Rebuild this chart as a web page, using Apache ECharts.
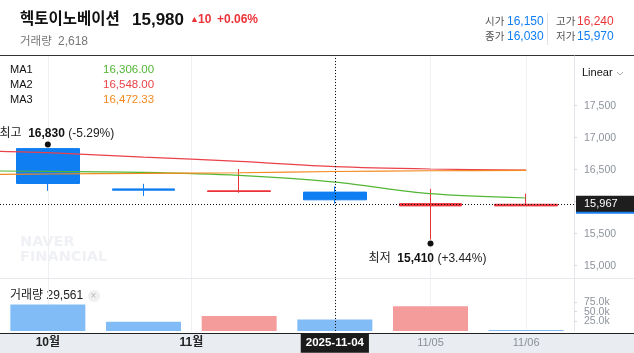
<!DOCTYPE html>
<html>
<head>
<meta charset="utf-8">
<script src="https://cdn.jsdelivr.net/npm/echarts@6/dist/echarts.min.js"></script>
<style>
  html, body { margin: 0; padding: 0; background: #fff; }
  #chart { width: 634px; height: 353px; }
</style>
</head>
<body>
<div id="chart"></div>
<script>
  // 일봉 6개 (10/30 ~ 11/06), x 좌표는 인덱스
  const dates   = ['2025-10-30', '2025-10-31', '2025-11-03', '2025-11-04', '2025-11-05', '2025-11-06'];
  const opens   = [16830, 16200, 16160, 16150, 15935, 15935];
  const closes  = [16285, 16180, 16170, 16030, 15970, 15960];
  const lows    = [16170, 16090, 16140, 15970, 15410, 15935];
  const highs   = [16830, 16280, 16510, 16240, 16200, 16125];
  const volumes = [69000, 24000, 39000, 29561, 64000, 2618];

  // 이동평균선 (첫 점은 차트 왼쪽 끝)
  const maX = [-0.5, 0, 1, 2, 3, 4, 5];
  const ma1 = [16480, 16473, 16458, 16411, 16306, 16125, 16058];
  const ma2 = [16786, 16766, 16698, 16630, 16548, 16511, 16495];
  const ma3 = [16427, 16433, 16442, 16453, 16472.33, 16484, 16489];

  // 축 눈금
  const xLabelPos = [0, 1.5, 3, 4, 5];
  const xLabels = ['10월', '11월', '2025-11-04', '11/05', '11/06'];
  const priceTicks = [15000, 15500, 16000, 16500, 17000, 17500];
  const volTicks = [25000, 50000, 75000];

  // 크로스헤어 / 헤더
  const crossIdx = 3;
  const crossPrice = 15967;
  const refPrice = 15940;
  const stockName = '헥토이노베이션';
  const lastPrice = 15980;
  const change = 10;
  const changePct = 0.06;
  const todayVolume = 2618;

  const FONT = '"Liberation Sans", "Noto Sans CJK KR", sans-serif';
  const UP = '#ec3338', DOWN = '#0f7ef2';
  const fmt = v => v.toLocaleString('en-US');
  const fmt2 = v => v.toLocaleString('en-US', {minimumFractionDigits: 2, maximumFractionDigits: 2});

  const chart = echarts.init(document.getElementById('chart'));

  const candleData = dates.map((d, i) => [i, opens[i], closes[i], lows[i], highs[i]]);
  const volData = volumes.map((v, i) => ({
    value: [i, v],
    itemStyle: {color: i > 0 && v > volumes[i - 1] ? '#f49c9c' : '#82bcf7'}
  }));
  const maIdx = maX.indexOf(crossIdx);

  const hiIdx = highs.indexOf(Math.max(...highs));
  const loIdx = lows.indexOf(Math.min(...lows));
  const pct = v => {
    const p = (refPrice / v - 1) * 100;
    return (p > 0 ? '+' : '') + p.toFixed(2) + '%';
  };
  const markRich = {
    t: {fontSize: 12, color: '#222', fontFamily: FONT},
    b: {fontSize: 12, color: '#111', fontWeight: 'bold', fontFamily: FONT}
  };

  function txt(x, y, text, size, color, weight, family) {
    return {
      type: 'text', x: x, y: y, silent: true,
      style: {
        text: text, fill: color, fontSize: size, fontWeight: weight || 'normal',
        fontFamily: family || FONT, verticalAlign: 'middle'
      }
    };
  }

  const maNames = ['MA1', 'MA2', 'MA3'];
  const maColors = ['#52b735', '#ea4249', '#f3891f'];
  const maSets = [ma1, ma2, ma3];

  const graphic = [
    {type: 'rect', z: -10, silent: true, shape: {x: 0, y: 333, width: 634, height: 20}, style: {fill: '#e9ecf0'}},
    {type: 'line', silent: true, shape: {x1: 0, y1: 333.5, x2: 634, y2: 333.5}, style: {stroke: '#222', lineWidth: 1}},
    {type: 'line', silent: true, shape: {x1: 0, y1: 55.5, x2: 634, y2: 55.5}, style: {stroke: '#333', lineWidth: 1}},
    {type: 'line', silent: true, shape: {x1: 0, y1: 278.5, x2: 634, y2: 278.5}, style: {stroke: '#e6e8eb', lineWidth: 1}},
    // 헤더
    txt(20, 20, stockName, 15.5, '#111', 'bold'),
    txt(132, 20, fmt(lastPrice), 17, '#111', 'bold'),
    txt(190, 20, '▲', 9, UP),
    txt(198, 20, String(change), 12, UP, 'bold'),
    txt(217, 20, '+' + changePct.toFixed(2) + '%', 12, UP, 'bold'),
    txt(20, 42, '거래량', 11.5, '#777'),
    txt(58, 42, fmt(todayVolume), 12, '#777'),
    txt(485, 22, '시가', 10.5, '#555'),
    txt(507, 22, fmt(opens[crossIdx]), 12, DOWN),
    txt(485, 37, '종가', 10.5, '#555'),
    txt(507, 37, fmt(closes[crossIdx]), 12, DOWN),
    {type: 'line', silent: true, shape: {x1: 547.5, y1: 13, x2: 547.5, y2: 45}, style: {stroke: '#e3e3e3', lineWidth: 1}},
    txt(556, 22, '고가', 10.5, '#555'),
    txt(577, 22, fmt(highs[crossIdx]), 12, UP),
    txt(556, 37, '저가', 10.5, '#555'),
    txt(577, 37, fmt(lows[crossIdx]), 12, DOWN),
    // Linear
    txt(582, 73, 'Linear', 11, '#111'),
    {type: 'polyline', silent: true, shape: {points: [[617, 72], [620, 75], [623, 72]]}, style: {stroke: '#aaa', lineWidth: 1, fill: null}},
    // 워터마크
    txt(20, 242, 'NAVER', 14.5, '#eff1f4', 'bold', '"DejaVu Sans"'),
    txt(20, 257, 'FINANCIAL', 14.5, '#eff1f4', 'bold', '"DejaVu Sans"'),
    // 거래량 라벨
    txt(10, 296, '거래량 ' + fmt(volumes[crossIdx]), 12, '#222'),
    {type: 'circle', silent: true, shape: {cx: 94, cy: 296, r: 6}, style: {fill: '#f0f0f0'}},
    txt(90.5, 296, '×', 10, '#bbb')
  ];
  maNames.forEach((n, k) => {
    const y = 70 + k * 14.8;
    graphic.push(txt(10, y, n, 11, '#111'));
    graphic.push(txt(103, y, fmt2(maSets[k][maIdx]), 11.5, maColors[k]));
  });

  const dotted = {color: '#111', type: [1, 2], width: 1};

  // 거래량 축: 라벨 간격이 좁아서 눈금마다 축 하나씩
  const volAxes = volTicks.map((t, k) => ({
    gridIndex: 1, type: 'value', position: 'right',
    min: 0, max: 135000,
    axisLine: {show: k === 0, onZero: false, lineStyle: {color: '#e3e6ea'}},
    axisTick: {show: true, length: 3, customValues: [t], lineStyle: {color: '#d5d8dc'}},
    axisLabel: {
      customValues: [t], color: '#8e939b', fontSize: 10.5, fontFamily: FONT, margin: 10,
      padding: [4, 0, 0, 0], formatter: v => (v / 1000).toFixed(1) + 'k'
    },
    splitLine: {show: false}
  }));

  chart.setOption({
    animation: false,
    graphic: graphic,
    grid: [
      {left: -1, right: 60, top: 56, height: 222},
      {left: -1, right: 60, top: 279, height: 54}
    ],
    xAxis: [
      {
        gridIndex: 0, type: 'value', min: -0.5, max: 5.5,
        axisLine: {show: false, onZero: false},
        axisTick: {show: false, customValues: xLabelPos},
        axisLabel: {show: false},
        splitLine: {show: true, lineStyle: {color: '#eef0f3'}}
      },
      {
        gridIndex: 1, type: 'value', min: -0.5, max: 5.5,
        axisLine: {show: false, onZero: false},
        axisTick: {show: false, customValues: xLabelPos},
        splitLine: {show: true, lineStyle: {color: '#eef0f3'}},
        axisLabel: {
          customValues: xLabelPos,
          margin: 6,
          formatter: v => {
            const i = xLabelPos.indexOf(v);
            if (i < 0) return '';
            const s = v === crossIdx ? 'sel' : (xLabels[i].indexOf('월') >= 0 ? 'mon' : 'day');
            return '{' + s + '|' + xLabels[i] + '}';
          },
          rich: {
            mon: {fontSize: 12, fontWeight: 'bold', color: '#222', fontFamily: FONT, lineHeight: 12, padding: [4, 2]},
            day: {fontSize: 11, color: '#8a8f99', fontFamily: FONT, lineHeight: 12, padding: [4, 2]},
            sel: {fontSize: 11.5, fontWeight: 'bold', color: '#fff', backgroundColor: '#1b1b1b', fontFamily: FONT, lineHeight: 12, padding: [4, 5]}
          }
        }
      }
    ],
    yAxis: [
      {
        gridIndex: 0, type: 'value', position: 'right',
        min: 14808, max: 18277,
        axisLine: {show: true, onZero: false, lineStyle: {color: '#e3e6ea'}},
        axisTick: {show: true, length: 3, customValues: priceTicks, lineStyle: {color: '#d5d8dc'}},
        axisLabel: {customValues: priceTicks, color: '#8e939b', fontSize: 10.5, fontFamily: FONT, margin: 10, formatter: v => fmt(v)},
        splitLine: {show: false}
      }
    ].concat(volAxes),
    series: [
      {
        name: 'MA1', type: 'line', xAxisIndex: 0, yAxisIndex: 0, smooth: 0.3, symbol: 'none',
        lineStyle: {color: maColors[0], width: 1.2}, data: maX.map((x, i) => [x, ma1[i]])
      },
      {
        name: 'MA2', type: 'line', xAxisIndex: 0, yAxisIndex: 0, smooth: 0.3, symbol: 'none',
        lineStyle: {color: maColors[1], width: 1.2}, data: maX.map((x, i) => [x, ma2[i]])
      },
      {
        name: 'MA3', type: 'line', xAxisIndex: 0, yAxisIndex: 0, smooth: 0.3, symbol: 'none',
        lineStyle: {color: maColors[2], width: 1.2}, data: maX.map((x, i) => [x, ma3[i]])
      },
      {
        name: 'price', type: 'candlestick', xAxisIndex: 0, yAxisIndex: 0,
        barWidth: 63,
        itemStyle: {color: UP, color0: DOWN, borderColor: UP, borderColor0: DOWN, borderWidth: 1},
        data: candleData,
        markPoint: {
          symbol: 'circle', symbolSize: 6, silent: true,
          itemStyle: {color: '#111'},
          data: [
            {
              coord: [hiIdx, highs[hiIdx]], symbolOffset: [0, -4],
              label: {show: true, position: 'top', distance: 2, offset: [9, 0], formatter: '{t|최고}  {b|' + fmt(highs[hiIdx]) + '} {t|(' + pct(highs[hiIdx]) + ')}', rich: markRich}
            },
            {
              coord: [loIdx, lows[loIdx]], symbolOffset: [0, 4],
              label: {show: true, position: 'bottom', distance: 6, offset: [-3, 0], formatter: '{t|최저}  {b|' + fmt(lows[loIdx]) + '} {t|(' + pct(lows[loIdx]) + ')}', rich: markRich}
            }
          ]
        },
        markLine: {
          symbol: ['none', 'none'], silent: true,
          lineStyle: dotted,
          data: [
            {
              yAxis: crossPrice,
              label: {
                show: true, position: 'end', distance: 2,
                formatter: p => fmt(p.value),
                color: '#fff', fontSize: 11, fontFamily: FONT,
                backgroundColor: '#1e1e1e', padding: [2, 22, 2, 8], lineHeight: 12,
                shadowColor: '#1a7ef2', shadowOffsetY: 2, shadowBlur: 0
              }
            },
            {xAxis: crossIdx, label: {show: false}}
          ]
        }
      },
      {
        name: 'volume', type: 'bar', xAxisIndex: 1, yAxisIndex: 1,
        barWidth: 75, data: volData,
        markLine: {
          symbol: ['none', 'none'], silent: true, lineStyle: dotted,
          label: {show: false},
          data: [{xAxis: crossIdx}]
        }
      }
    ]
  });
</script>
</body>
</html>
